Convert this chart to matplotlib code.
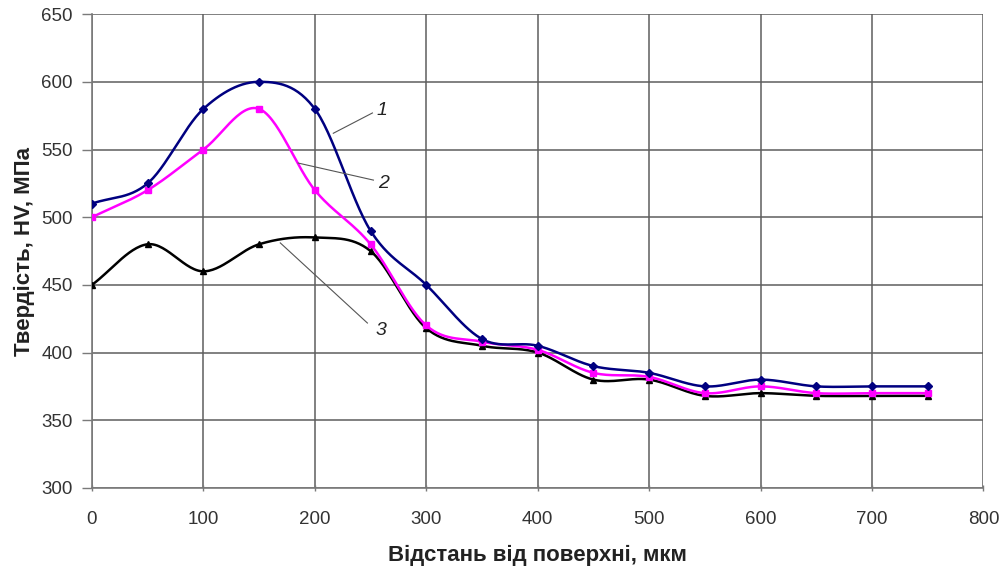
import numpy as np
import matplotlib
matplotlib.use("Agg")
import matplotlib.pyplot as plt

# Distance from the surface, um
depth = [0, 50, 100, 150, 200, 250, 300, 350, 400, 450, 500, 550, 600, 650, 700, 750]

# Hardness HV, MPa for the three treatment variants
hv_1 = [510, 525, 580, 600, 580, 490, 450, 410, 405, 390, 385, 375, 380, 375, 375, 375]
hv_2 = [500, 520, 550, 580, 520, 480, 420, 408, 402, 385, 382, 370, 375, 370, 370, 370]
hv_3 = [450, 480, 460, 480, 485, 475, 418, 405, 400, 380, 380, 368, 370, 368, 368, 368]

x_ticks = [0, 100, 200, 300, 400, 500, 600, 700, 800]
y_ticks = [300, 350, 400, 450, 500, 550, 600, 650]

plt.rcParams['font.family'] = ['Liberation Sans', 'DejaVu Sans']


def smooth(xs, ys, n=30):
    """Catmull-Rom spline through the points, like a smoothed spreadsheet line."""
    xs = np.asarray(xs, float)
    ys = np.asarray(ys, float)
    px = np.concatenate([[2 * xs[0] - xs[1]], xs, [2 * xs[-1] - xs[-2]]])
    py = np.concatenate([[2 * ys[0] - ys[1]], ys, [2 * ys[-1] - ys[-2]]])
    out_x, out_y = [], []
    t = np.linspace(0, 1, n, endpoint=False)
    for i in range(1, len(px) - 2):
        for p, out in ((px, out_x), (py, out_y)):
            p0, p1, p2, p3 = p[i - 1], p[i], p[i + 1], p[i + 2]
            out.extend(0.5 * ((2 * p1) + (-p0 + p2) * t
                              + (2 * p0 - 5 * p1 + 4 * p2 - p3) * t ** 2
                              + (-p0 + 3 * p1 - 3 * p2 + p3) * t ** 3))
    out_x.append(xs[-1])
    out_y.append(ys[-1])
    return np.array(out_x), np.array(out_y)


fig = plt.figure(figsize=(10.05, 5.66), dpi=100)
ax = fig.add_axes([0.0915, 0.138, 0.887, 0.837])

series = [
    (hv_3, '#000000', '^', 4.5),
    (hv_2, '#ff00ff', 's', 4.0),
    (hv_1, '#000080', 'D', 4.0),
]
for vals, color, marker, ms in series:
    sx, sy = smooth(depth, vals)
    ax.plot(sx, sy, color=color, lw=1.8, zorder=3, solid_capstyle='round')
    ax.plot(depth, vals, linestyle='none', marker=marker, ms=ms,
            color=color, zorder=4)

# Curve labels with leader lines
labels = [
    ('1', (216.6, 562.0), (251.7, 577.0), (260.5, 579.0)),
    ('2', (185.0, 540.0), (252.6, 527.4), (261.5, 525.0)),
    ('3', (169.0, 481.0), (247.2, 421.8), (259.0, 416.5)),
]
for text, start, end, pos in labels:
    ax.plot([start[0], end[0]], [start[1], end[1]], color='#555555', lw=0.8, zorder=5)
    ax.text(pos[0], pos[1], text, fontsize=14, style='italic', color='#222222',
            ha='center', va='center', zorder=6)

ax.set_xlim(0, 800)
ax.set_ylim(300, 650)
ax.set_xticks(x_ticks)
ax.set_yticks(y_ticks)
ax.grid(True, color='#5e5e5e', lw=1.1, zorder=1)
ax.set_axisbelow(True)
for side in ('top', 'right'):
    ax.spines[side].set_visible(False)
for side in ('left', 'bottom'):
    ax.spines[side].set_color('#7a7a7a')
    ax.spines[side].set_linewidth(1.2)
ax.tick_params(axis='both', colors='#7a7a7a', labelcolor='#333333',
               labelsize=13.5, width=1.0)
ax.tick_params(axis='x', direction='inout', length=5, pad=14)
ax.tick_params(axis='y', direction='out', length=7, pad=7)

ax.set_xlabel('Відстань від поверхні, мкм', fontsize=16, fontweight='bold',
              color='#222222', labelpad=12)
ax.set_ylabel('Твердість, HV, МПа', fontsize=16, fontweight='bold',
              color='#222222', labelpad=4)

fig.savefig('out.png', dpi=100)
